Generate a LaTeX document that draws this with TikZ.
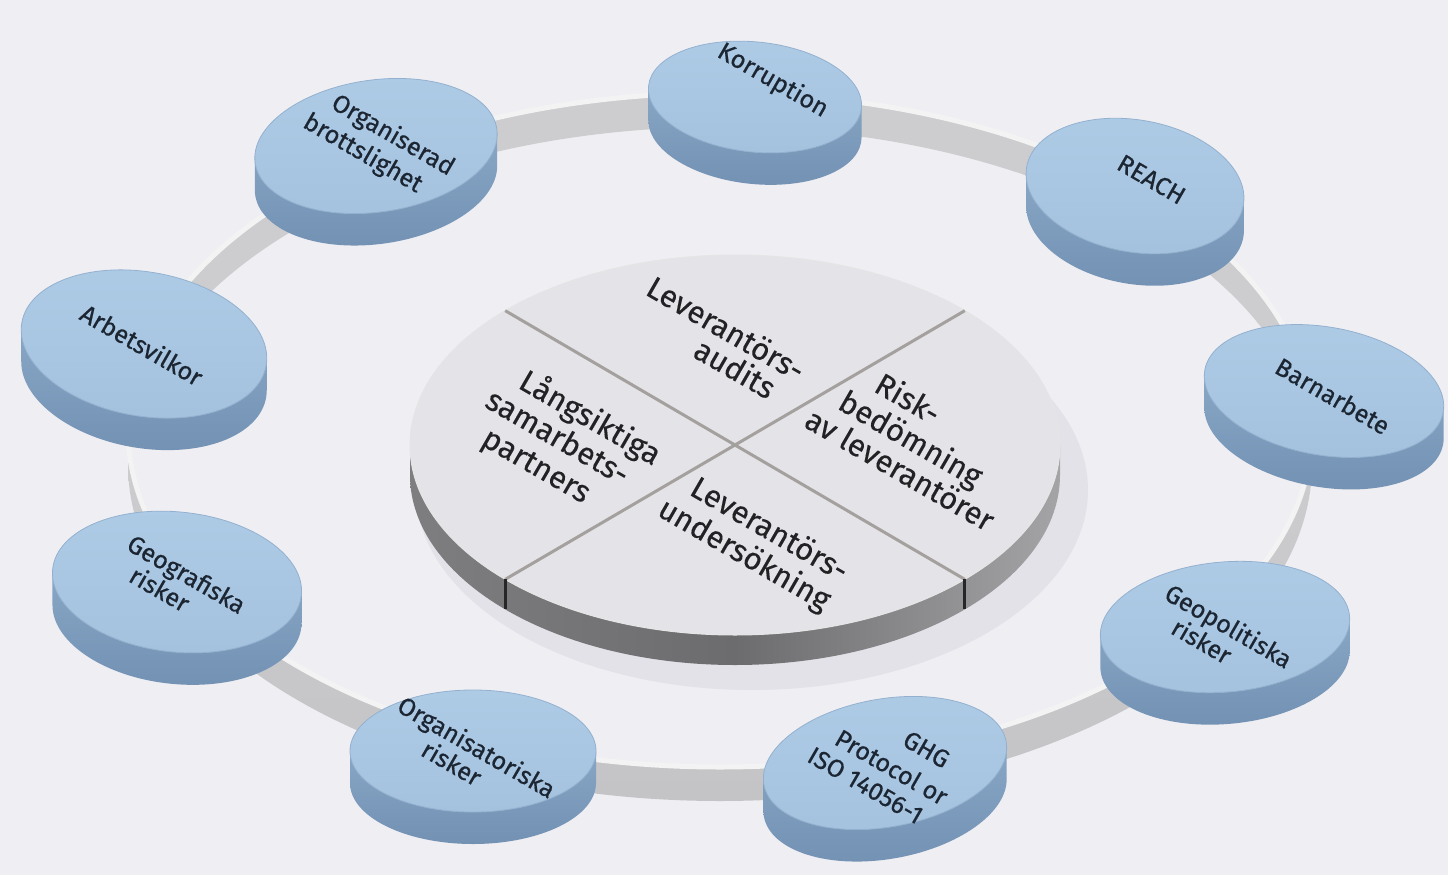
\documentclass[tikz,border=0pt]{standalone}
\usepackage{fontspec}
\setmainfont{Fira Sans}
\newfontfamily\diskfont{Fira Sans}[FakeBold=0.6]
\newfontfamily\hubfont{Fira Sans}[FakeBold=0.3]
\begin{document}
\begin{tikzpicture}[x=1pt,y=1pt]
\definecolor{bg}{HTML}{EFEEF3}
\definecolor{ringside}{HTML}{CDCDCF}
\definecolor{ringsideB}{HTML}{C4C4C6}
\definecolor{ringtop}{HTML}{F3F3F4}
\definecolor{shadowc}{HTML}{E3E2E8}
\definecolor{maintop}{HTML}{E4E3E8}
\definecolor{mainsideL}{HTML}{7E7E80}
\definecolor{mainsideM}{HTML}{6C6C6E}
\definecolor{mainsideR}{HTML}{A4A4A6}
\definecolor{divider}{HTML}{A3A09D}
\definecolor{sideA}{HTML}{88A6C5}
\definecolor{sideB}{HTML}{7291B3}
\definecolor{faceA}{HTML}{AECBE6}
\definecolor{faceB}{HTML}{A4C2DE}
\definecolor{faceedge}{HTML}{93B1CF}
\definecolor{smalltext}{HTML}{1C2633}
\definecolor{maintext}{HTML}{222224}
\tikzset{
  iso/.style={rotate=-30, transform shape, inner sep=0pt, anchor=center},
  smallfont/.style={font=\diskfont\fontsize{25}{28}\selectfont, text=smalltext},
  mainfont/.style={font=\hubfont\fontsize{31}{35}\selectfont, text=maintext},
}
\newcommand\smalldisk[6]{%
  \pgfmathsetmacro\tz{atan(-(#5/#4)*tan(#6))}%
  \pgfmathsetmacro\tzb{\tz+180}%
  \pgfmathsetmacro\tzc{\tz+360}%
  \pgfmathsetmacro\tzd{\tz-180}%
  \pgfmathsetmacro\dvx{-32*sin(#6)}%
  \pgfmathsetmacro\dvy{-32*cos(#6)}%
  \begin{scope}[shift={(#2,-#3)}, rotate=#6]
    \shade[top color=sideA, bottom color=sideB] (\tz:#4 and #5) -- ++(\dvx,\dvy)
      arc[start angle=\tz, end angle=\tzd, x radius=#4, y radius=#5]
      -- (\tzb:#4 and #5)
      arc[start angle=\tzb, end angle=\tzc, x radius=#4, y radius=#5] -- cycle;
    \shade[top color=faceA, bottom color=faceB, draw=faceedge, line width=0.8]
      (0,0) ellipse[x radius=#4, y radius=#5];
    \coordinate (#1) at (0,0);
  \end{scope}}
\newcommand\isoline[5]{%
  \begin{scope}[shift={(#2,-#3)}]
    \node[iso,#4] (#1) at (0,0) {\strut #5};
  \end{scope}}

% background
\fill[bg] (0,0) rectangle (1448,-875);
\useasboundingbox (0,0) rectangle (1448,-875);

% ring band
\begin{scope}[shift={(720,-430)}]
  \fill[ringside] (180:592 and 337) arc[start angle=180, end angle=0, x radius=592, y radius=337]
    -- ++(0,-34) arc[start angle=0, end angle=180, x radius=592, y radius=337] -- cycle;
  \shade[top color=ringside, bottom color=ringsideB] (180:592 and 337) arc[start angle=180, end angle=360, x radius=592, y radius=337]
    -- ++(0,-34) arc[start angle=360, end angle=180, x radius=592, y radius=337] -- cycle;
  \draw[ringtop, line width=5] (0,0) ellipse[x radius=592, y radius=337];
  \coordinate (ring) at (0,0);
\end{scope}

% main disk shadow
\fill[shadowc] (752,-490) ellipse[x radius=336, y radius=200];

% main disk
\begin{scope}[shift={(735,-445)}]
  \shade[left color=mainsideL, right color=mainsideR, middle color=mainsideM]
    (180:325 and 190) -- ++(0,-30) arc[start angle=180, end angle=360, x radius=325, y radius=190]
    -- ++(0,30) arc[start angle=360, end angle=180, x radius=325, y radius=190] -- cycle;
  \fill[maintop, draw=white!80!gray, line width=1] (0,0) ellipse[x radius=325, y radius=190];
  \coordinate (hub) at (0,0);
  \coordinate (p1) at (135:325 and 190);
  \coordinate (p2) at (45:325 and 190);
  \coordinate (p3) at (225:325 and 190);
  \coordinate (p4) at (315:325 and 190);
  \draw[divider, line width=3] (p1) -- (hub) -- (p4);
  \draw[divider, line width=3] (p2) -- (hub) -- (p3);
  \draw[black!85, line width=3] (p3) -- ++(0,-30);
  \draw[black!85, line width=3] (p4) -- ++(0,-30);
\end{scope}

\isoline{q1a}{724}{332}{mainfont}{Leverantörs-}
\isoline{q1b}{733}{372}{mainfont}{audits}
\isoline{q2a}{906}{402}{mainfont}{Risk-}
\isoline{q2b}{909}{442}{mainfont}{bedömning}
\isoline{q2c}{898}{473}{mainfont}{av leverantörer}
\isoline{q3a}{768}{532}{mainfont}{Leverantörs-}
\isoline{q3b}{743}{557}{mainfont}{undersökning}
\isoline{q4a}{589}{420}{mainfont}{Långsiktiga}
\isoline{q4b}{556}{440}{mainfont}{samarbets-}
\isoline{q4c}{535}{468}{mainfont}{partners}

% small disks, back to front
\smalldisk{kor}{755}{97}{107}{55}{-6}
\isoline{korT}{772}{82}{smallfont}{Korruption}
\smalldisk{orgb}{376}{146}{122}{66}{8}
\isoline{orgbT1}{392}{137}{smallfont}{Organiserad}
\isoline{orgbT2}{362}{155}{smallfont}{brottslighet}
\smalldisk{reach}{1135}{186}{110}{66}{-10}
\isoline{reachT}{1150}{182}{smallfont}{REACH}
\smalldisk{arb}{144}{344}{124}{72}{-10}
\isoline{arbT}{140}{348}{smallfont}{Arbetsvilkor}
\smalldisk{barn}{1324}{391}{121}{64}{-10}
\isoline{barnT}{1331}{399}{smallfont}{Barnarbete}
\smalldisk{geog}{177}{582}{125}{70}{-6}
\isoline{geogT1}{185}{577}{smallfont}{Geografiska}
\isoline{geogT2}{158}{592}{smallfont}{risker}
\smalldisk{geop}{1225}{627}{125}{65}{5}
\isoline{geopT1}{1227}{629}{smallfont}{Geopolitiska}
\isoline{geopT2}{1200}{644}{smallfont}{risker}
\smalldisk{orgr}{473}{751}{123}{61}{0}
\isoline{orgrT1}{475}{750}{smallfont}{Organisatoriska}
\isoline{orgrT2}{450}{766}{smallfont}{risker}
\smalldisk{ghg}{885}{763}{123}{64}{10}
\isoline{ghgT1}{925}{752}{smallfont}{GHG}
\isoline{ghgT2}{890}{770}{smallfont}{Protocol or}
\isoline{ghgT3}{864}{788}{smallfont}{ISO 14056-1}
\end{tikzpicture}
\end{document}
